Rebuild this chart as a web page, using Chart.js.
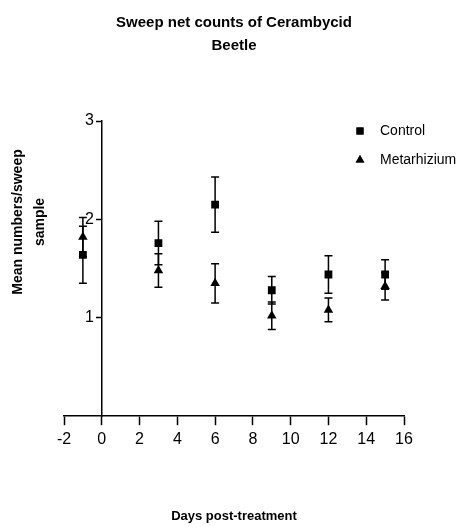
<!DOCTYPE html>
<html>
<head>
<meta charset="utf-8">
<script src="https://cdn.jsdelivr.net/npm/chart.js@4.4.1/dist/chart.umd.min.js"></script>
<style>
  html, body { margin: 0; padding: 0; background: #fff; }
  #wrap { width: 471px; height: 527px; }
</style>
</head>
<body>
<div id="wrap"><canvas id="chart" width="471" height="527"></canvas></div>
<script>
// values (mean +/- SEM)
const days = [-1, 3, 6, 9, 12, 15];
const controlMean = [1.64, 1.76, 2.15, 1.28, 1.44, 1.44];
const controlSem = [0.29, 0.22, 0.28, 0.14, 0.19, 0.15];
const metaMean = [1.82, 1.48, 1.35, 1.02, 1.08, 1.32];
const metaSem = [0.20, 0.17, 0.20, 0.14, 0.12, 0.14];
const xTicks = [-2, 0, 2, 4, 6, 8, 10, 12, 14, 16];
const yTicks = [1, 2, 3];

const FONT = "'Liberation Sans', Arial, sans-serif";

function points(means) {
  return days.map((d, i) => ({ x: d, y: means[i] }));
}

// error bars drawn from the scales, under the markers
const errorBars = {
  id: "errorBars",
  beforeDatasetsDraw(chart) {
    const { ctx, scales: { x, y } } = chart;
    ctx.save();
    ctx.strokeStyle = "#000";
    ctx.lineWidth = 1.5;
    chart.data.datasets.forEach(ds => {
      ds.data.forEach((p, i) => {
        const px = x.getPixelForValue(p.x);
        const top = y.getPixelForValue(p.y + ds.sem[i]);
        const bot = y.getPixelForValue(p.y - ds.sem[i]);
        ctx.beginPath();
        ctx.moveTo(px, top); ctx.lineTo(px, bot);
        ctx.moveTo(px - 4, top); ctx.lineTo(px + 4, top);
        ctx.moveTo(px - 4, bot); ctx.lineTo(px + 4, bot);
        ctx.stroke();
      });
    });
    ctx.restore();
  }
};

// legend in the top right and the two-line y title
const extras = {
  id: "extras",
  afterDraw(chart) {
    const { ctx } = chart;
    ctx.save();
    ctx.fillStyle = "#000";
    ctx.font = "14px " + FONT;
    ctx.textBaseline = "middle";
    chart.data.datasets.forEach((ds, i) => {
      const yy = 131 + i * 29;
      Chart.helpers.drawPoint(ctx, { pointStyle: ds.pointStyle, radius: ds.pointRadius - 0.5, rotation: 0, borderWidth: 0 }, 360, yy);
      ctx.fillStyle = "#000";
      ctx.fill();
      ctx.textAlign = "left";
      ctx.fillText(ds.label, 380, yy);
    });

    ctx.translate(0, 222);
    ctx.rotate(-Math.PI / 2);
    ctx.font = "bold 14px " + FONT;
    ctx.textAlign = "center";
    ctx.fillText("Mean numbers/sweep", 0, 18);
    ctx.fillText("sample", 0, 40);
    ctx.restore();
  }
};

new Chart(document.getElementById("chart"), {
  type: "scatter",
  data: {
    datasets: [
      {
        label: "Control",
        data: points(controlMean),
        sem: controlSem,
        pointStyle: "rect",
        pointRadius: 5.5,
        backgroundColor: "#000",
        borderColor: "#000",
        borderWidth: 0
      },
      {
        label: "Metarhizium",
        data: points(metaMean),
        sem: metaSem,
        pointStyle: "triangle",
        pointRadius: 5.5,
        backgroundColor: "#000",
        borderColor: "#000",
        borderWidth: 0
      }
    ]
  },
  options: {
    responsive: false,
    animation: false,
    layout: { padding: { left: 64, right: 67, top: 0, bottom: 0 } },
    plugins: {
      legend: { display: false },
      tooltip: { enabled: false },
      title: {
        display: true,
        text: ["Sweep net counts of Cerambycid", "Beetle"],
        color: "#000",
        font: { family: FONT, size: 15, weight: "bold", lineHeight: 1.5 },
        padding: { top: 12, bottom: 64 }
      }
    },
    scales: {
      x: {
        type: "linear",
        min: -2,
        max: 16,
        afterBuildTicks: axis => { axis.ticks = xTicks.map(v => ({ value: v })); },
        grid: { drawOnChartArea: false, tickLength: 9, tickColor: "#000", tickWidth: 1.5 },
        border: { color: "#000", width: 1.5 },
        ticks: { color: "#000", padding: 5, maxRotation: 0, font: { family: FONT, size: 16 } },
        title: {
          display: true,
          text: "Days post-treatment",
          color: "#000",
          font: { family: FONT, size: 13, weight: "bold" },
          padding: { top: 54, bottom: 3 }
        }
      },
      y: {
        type: "linear",
        position: { x: 0 },
        min: 0,
        max: 3,
        afterBuildTicks: axis => { axis.ticks = yTicks.map(v => ({ value: v })); },
        grid: { drawOnChartArea: false, tickLength: 5, tickColor: "#000", tickWidth: 1.5 },
        border: { color: "#000", width: 1.5 },
        // labels of an axis placed at x = 0 sit right on the line, so pad with an en space
        ticks: { color: "#000", font: { family: FONT, size: 16 }, callback: v => v + "\u2002" }
      }
    }
  },
  plugins: [errorBars, extras]
});
</script>
</body>
</html>
